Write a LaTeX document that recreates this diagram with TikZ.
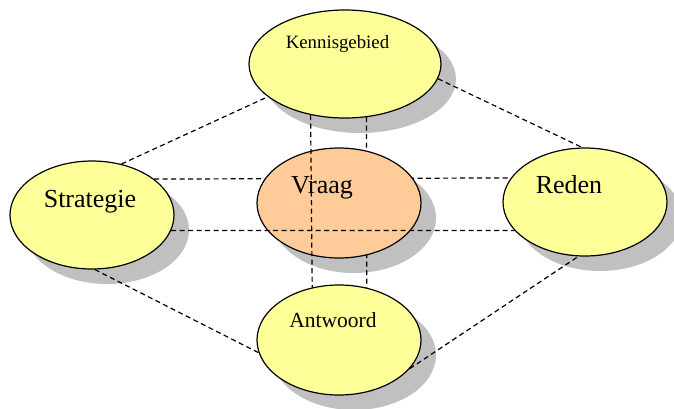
\documentclass[tikz,border=0pt]{standalone}
\usepackage{fontspec}
\setmainfont{Liberation Serif}
\usetikzlibrary{shapes.geometric}
\pgfdeclarelayer{shadowlayer}
\pgfdeclarelayer{linelayer}
\pgfsetlayers{shadowlayer,linelayer,main}
\definecolor{ellyellow}{HTML}{FFFF99}
\definecolor{ellorange}{HTML}{FFCC99}
\definecolor{shadowgray}{HTML}{C0C0C0}
\begin{document}
\begin{tikzpicture}[x=1pt,y=-1pt,
  oval/.style={ellipse, draw=black, line width=1.2pt, inner sep=0pt},
  wide/.style={minimum width=192pt, minimum height=108pt},
  std/.style={minimum width=164pt, minimum height=108pt},
  tall/.style={minimum width=164pt, minimum height=110pt},
  shade/.style={ellipse, fill=shadowgray, draw=none, inner sep=0pt},
  conn/.style={line width=1.2pt, dash pattern=on 5pt off 3.5pt},
  lbl/.style={anchor=base, inner sep=0pt, font=\fontsize{26}{26}\selectfont},
  smalllbl/.style={anchor=base, inner sep=0pt, font=\fontsize{18.8}{18.8}\selectfont},
  midlbl/.style={anchor=base, inner sep=0pt, font=\fontsize{21.5}{21.5}\selectfont}]
\useasboundingbox (0,0) rectangle (674,408);

% ellipses
\node[oval, wide, fill=ellyellow] (kb) at (345,64) {};
\node[oval, std, fill=ellyellow] (st) at (92,215) {};
\node[oval, tall, fill=ellorange] (vr) at (339,203) {};
\node[oval, std, fill=ellyellow] (rd) at (585,202) {};
\node[oval, tall, fill=ellyellow] (an) at (339,340) {};

% shadows
\begin{pgfonlayer}{shadowlayer}
\node[shade, wide] (kbs) at ([shift={(15,15)}]kb.center) {};
\node[shade, std] (sts) at ([shift={(15,15)}]st.center) {};
\node[shade, tall] (vrs) at ([shift={(15,15)}]vr.center) {};
\node[shade, std] (rds) at ([shift={(15,15)}]rd.center) {};
\node[shade, tall] (ans) at ([shift={(15,15)}]an.center) {};
\end{pgfonlayer}

% connectors hidden behind Vraag
\begin{pgfonlayer}{linelayer}
\draw[conn] (st.30.9) -- (rd.162.8);
\draw[conn] (kb.-68.3) -- (an.62.5);
\end{pgfonlayer}

% labels
\node[smalllbl] (kbt) at (337.5,48) {Kennisgebied};
\node[lbl] (stt) at (90,207) {Strategie};
\node[lbl] (vrt) at (322,193) {Vraag};
\node[lbl] (rdt) at (569,193) {Reden};
\node[midlbl] (ant) at (333,327) {Antwoord};

% visible connectors
\draw[conn] (st.-11.6) -- (rd.202.7);
\draw[conn] (kb.236.9) -- (an.117.5);
\draw[conn] (st.60) -- (kb.203);
\draw[conn] (kb.-9.6) -- (rd.93);
\draw[conn] (st.-87) -- (an.189);
\draw[conn] (an.-22) -- (rd.263);
\end{tikzpicture}
\end{document}
